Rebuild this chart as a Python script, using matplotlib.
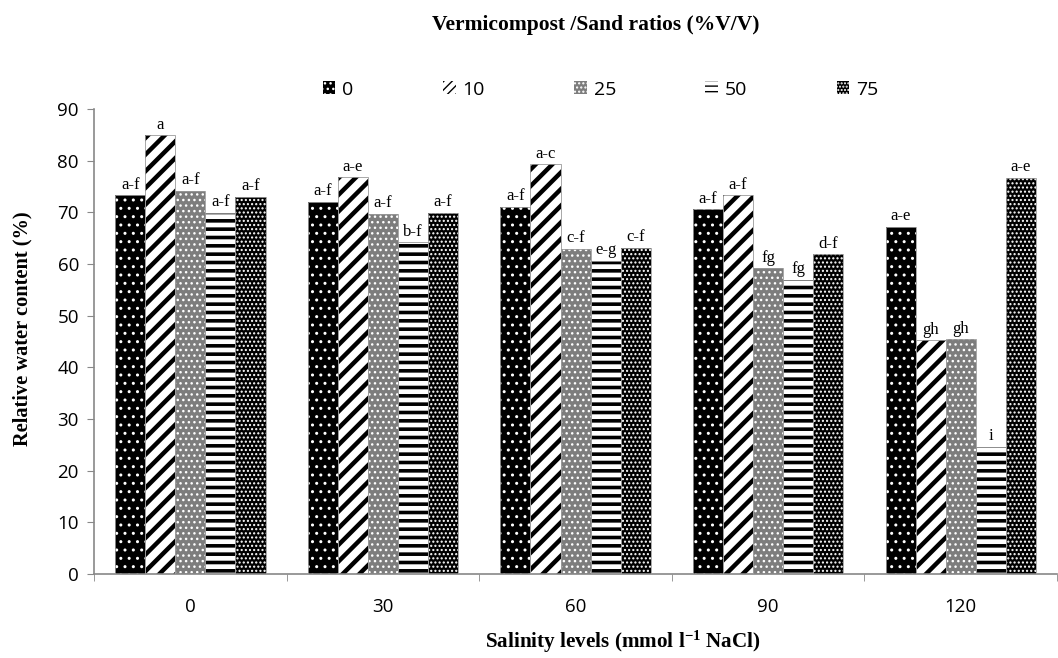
import matplotlib
matplotlib.use('Agg')
import matplotlib.pyplot as plt
from matplotlib.patches import Rectangle
import numpy as np

# data
salinity = ['0', '30', '60', '90', '120']
ratios = ['0', '10', '25', '50', '75']
rwc_0 = [73.3, 72.0, 71.1, 70.6, 67.2]
rwc_10 = [84.9, 76.8, 79.3, 73.3, 45.2]
rwc_25 = [74.2, 69.7, 63.0, 59.2, 45.4]
rwc_50 = [69.9, 64.2, 60.6, 56.9, 24.6]
rwc_75 = [73.0, 69.9, 63.1, 61.9, 76.7]
letters_0 = ['a-f', 'a-f', 'a-f', 'a-f', 'a-e']
letters_10 = ['a', 'a-e', 'a-c', 'a-f', 'gh']
letters_25 = ['a-f', 'a-f', 'c-f', 'fg', 'gh']
letters_50 = ['a-f', 'b-f', 'e-g', 'fg', 'i']
letters_75 = ['a-f', 'a-f', 'c-f', 'd-f', 'a-e']

series = [rwc_0, rwc_10, rwc_25, rwc_50, rwc_75]
letters = [letters_0, letters_10, letters_25, letters_50, letters_75]
# (face, hatch colour, hatch, hatch linewidth, legend hatch)
styles = [('black', 'white', '..', 1.0, '...'),
          ('white', 'black', '//', 3.2, '////'),
          ('#7d7d7d', 'white', '...', 1.0, '....'),
          ('white', 'black', '--', 2.6, '---'),
          ('black', 'white', '....', 1.0, '.....')]

serif = 'Liberation Serif'
sans = 'Open Sans'
plt.rcParams['mathtext.fontset'] = 'custom'
plt.rcParams['mathtext.rm'] = 'Liberation Serif:bold'
plt.rcParams['mathtext.bf'] = 'Liberation Serif:bold'
plt.rcParams['mathtext.default'] = 'bf'

fig = plt.figure(figsize=(10.58, 6.58), dpi=100)
ax = fig.add_axes([0.089, 0.1277, 0.91, 0.7066])

x = np.arange(len(salinity))
w = 0.156
handles = []
for i, (vals, labs, st) in enumerate(zip(series, letters, styles)):
    face, hc, hatch, hlw, lhatch = st
    pos = x + (i - 2) * w
    with plt.rc_context({'hatch.linewidth': hlw, 'hatch.color': hc}):
        ax.bar(pos, vals, w, color=face, edgecolor=hc, hatch=hatch,
               linewidth=0, zorder=2)
        handles.append(Rectangle((0, 0), 1, 1, facecolor=face, edgecolor=hc,
                                 hatch=lhatch, linewidth=0, label=ratios[i]))
    ax.bar(pos, vals, w, fill=False, edgecolor='#9a9a9a', linewidth=0.6, zorder=3)
    for p, v, t in zip(pos, vals, labs):
        ax.text(p, v + 0.5, t, ha='center', va='bottom', family=serif, fontsize=12)

ax.set_xlim(-0.5, 4.5)
ax.set_ylim(0, 90)
ax.set_yticks(np.arange(0, 91, 10))
ax.set_xticks(x)
ax.set_xticklabels(salinity)
ax.set_xticks(np.arange(-0.5, 4.6, 1), minor=True)
ax.tick_params(axis='x', which='major', length=0, pad=17, labelsize=13.5)
ax.tick_params(axis='x', which='minor', length=5, color='#888888', direction='out')
ax.tick_params(axis='y', length=5, color='#888888', labelsize=13.5, pad=6)
for lab in ax.get_xticklabels() + ax.get_yticklabels():
    lab.set_family(sans)
for s in ['top', 'right']:
    ax.spines[s].set_visible(False)
for s in ['left', 'bottom']:
    ax.spines[s].set_color('#888888')
    ax.spines[s].set_linewidth(1.2)

fig.text(0.021, 0.5, 'Relative water content (%)', rotation=90, ha='center', va='center',
         family=serif, fontweight='bold', fontsize=14.7)
fig.text(0.589, 0.024, 'Salinity levels (mmol l$^{-1}$ NaCl)', ha='center', va='center',
         family=serif, fontweight='bold', fontsize=15.2)
fig.text(0.563, 0.962, 'Vermicompost /Sand ratios (%V/V)', ha='center', va='center',
         family=serif, fontweight='bold', fontsize=15.5)

leg = ax.legend(handles=handles, ncol=5, loc='center', bbox_to_anchor=(0.526, 1.042),
                frameon=False, handlelength=0.65, handleheight=0.65, handletextpad=0.35,
                columnspacing=4.6, borderpad=0, prop={'family': sans, 'size': 14})

fig.savefig('out.png', dpi=100)
